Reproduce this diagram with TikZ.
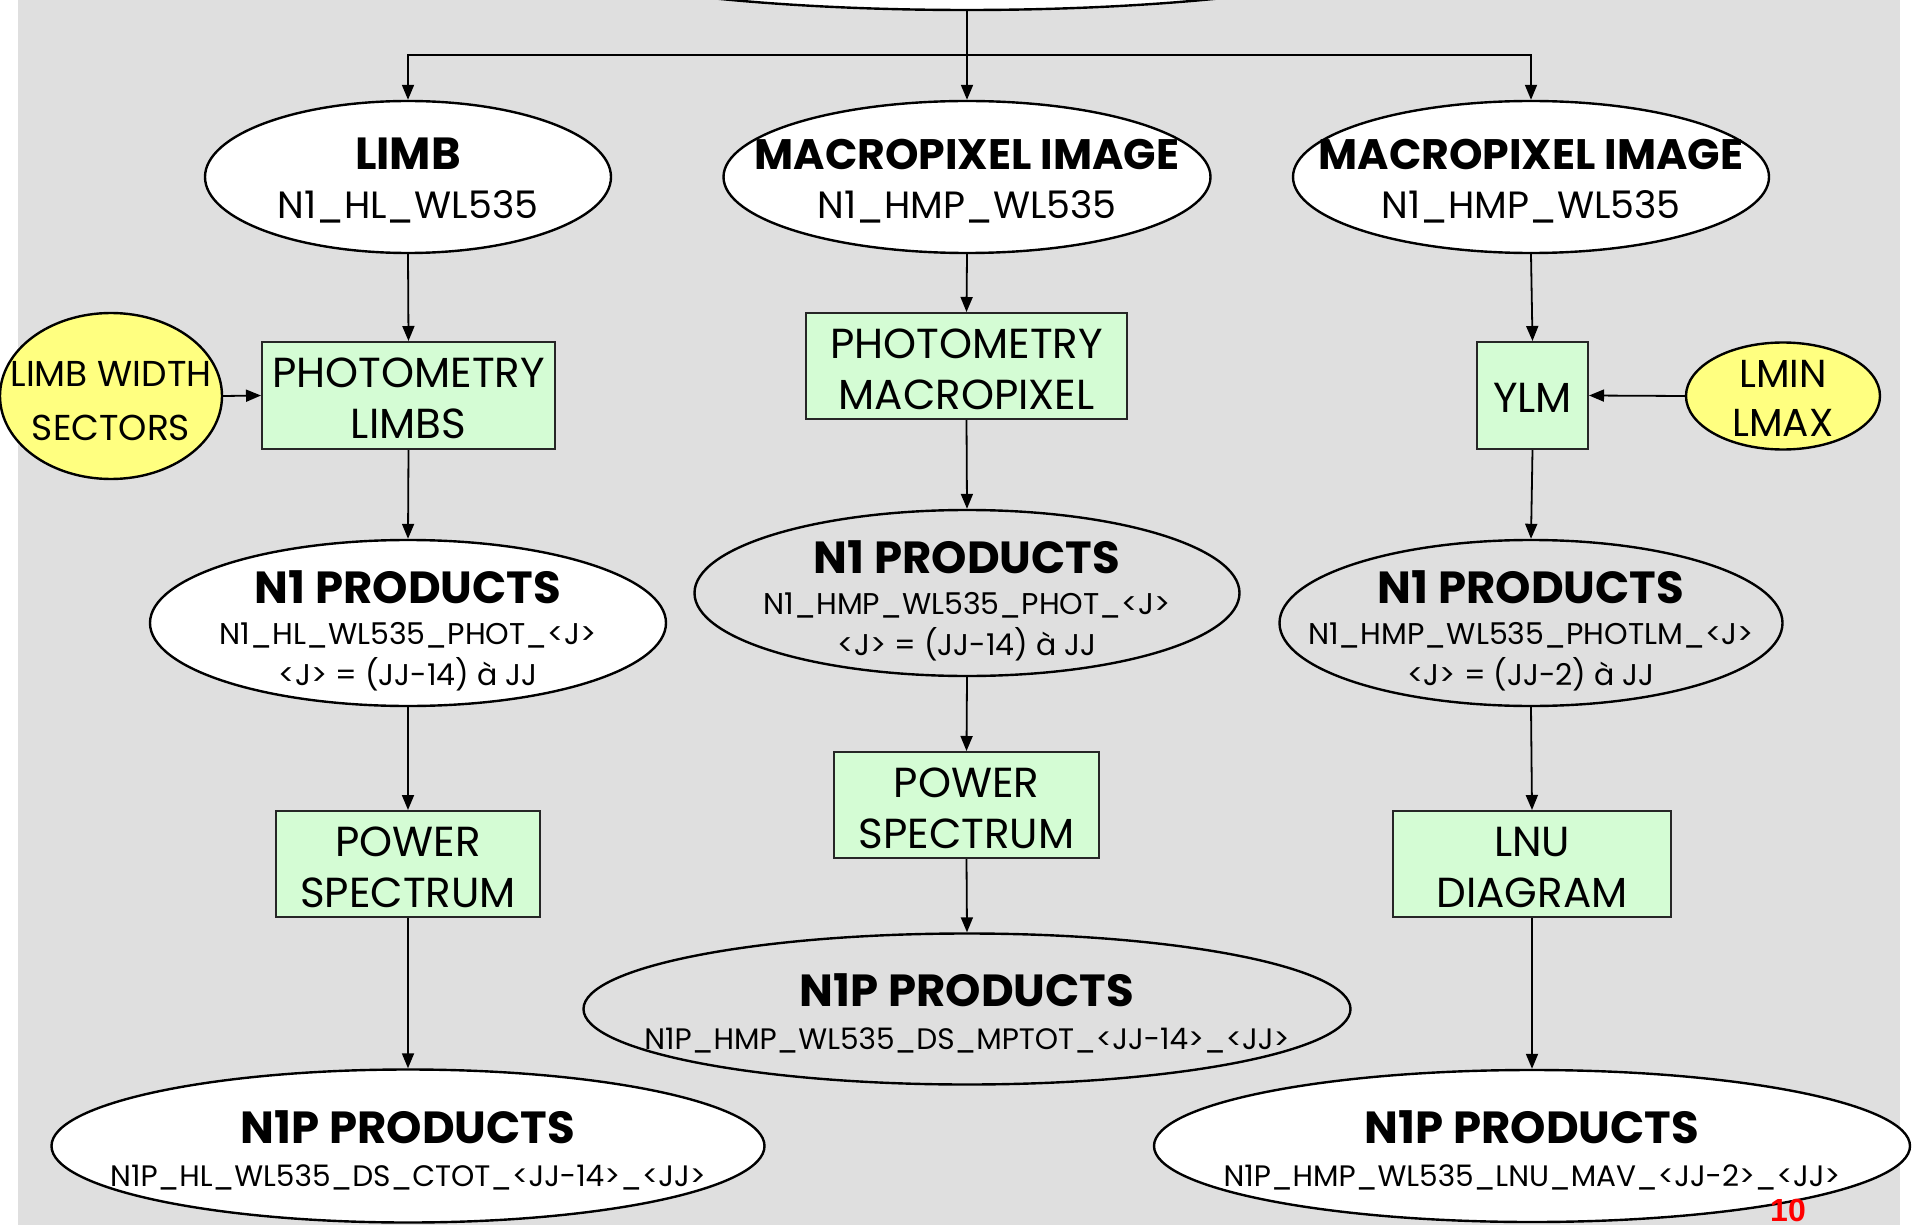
\documentclass[tikz,border=0pt]{standalone}
\usepackage{fontspec}
\setmainfont{Poppins}
\newfontfamily\numfont{Liberation Sans}
\usetikzlibrary{shapes.geometric,arrows.meta}
\definecolor{bggray}{RGB}{223,223,223}
\definecolor{boxgreen}{RGB}{212,252,212}
\definecolor{yelfill}{RGB}{255,255,128}
\newcommand{\ttl}{\bfseries\fontsize{22.5}{22.5}\selectfont}
\newcommand{\ttlw}{\bfseries\fontsize{21.3}{22.5}\selectfont}
\tikzset{
  ell/.style={ellipse, draw=black, line width=1.2pt, fill=white, inner sep=0pt},
  ellg/.style={ellipse, draw=black, line width=1.2pt, inner sep=0pt},
  yelnode/.style={ellipse, draw=black, line width=1.2pt, fill=yelfill, inner sep=0pt},
  gbox/.style={rectangle, draw=black!85, line width=1pt, fill=boxgreen, inner sep=0pt},
  btxt/.style={align=center, inner sep=0pt, font=\fontsize{21}{25.5}\selectfont},
  toptxt/.style={align=center, inner sep=0pt, font=\fontsize{19}{24.5}\selectfont},
  n1txt/.style={align=center, inner sep=0pt, font=\fontsize{15}{20.5}\selectfont},
  n1ptxt/.style={align=center, inner sep=0pt, font=\fontsize{14.8}{21.5}\selectfont},
  arr/.style={-{Triangle[length=7.5pt,width=6pt]}, line width=0.9pt}
}
\begin{document}
\begin{tikzpicture}[x=0.5pt,y=-0.5pt]
\clip (0,0) rectangle (1917,1225);
\fill[white] (0,0) rectangle (1917,1225);
\fill[bggray] (18,0) rectangle (1900,1225);

% top partial ellipse
\node[ell, minimum width=475pt, minimum height=76pt] (top) at (967,-66) {};

% top row
\node[ell, minimum width=203pt, minimum height=76pt] (limb) at (408,177) {};
\node[toptxt] (limbt) at (408,181) {{\ttl LIMB}\\N1\_HL\_WL535};
\node[ell, minimum width=243.5pt, minimum height=76pt] (mac1) at (967,177) {};
\node[toptxt] (mac1t) at (967,181) {{\ttlw MACROPIXEL IMAGE}\\N1\_HMP\_WL535};
\node[ell, minimum width=238pt, minimum height=76pt] (mac2) at (1531,177) {};
\node[toptxt] (mac2t) at (1531,181) {{\ttlw MACROPIXEL IMAGE}\\N1\_HMP\_WL535};

% second row
\node[yelnode, minimum width=111pt, minimum height=83pt] (yl) at (111,396) {};
\node[align=center, inner sep=0pt, font=\fontsize{18}{27}\selectfont] (ylt) at (111,401) {LIMB WIDTH\\SECTORS};
\node[gbox, minimum width=146.5pt, minimum height=53.5pt] (phl) at (408.5,395.5) {};
\node[btxt] (phlt) at ([yshift=-1.5pt]phl.center) {PHOTOMETRY\\LIMBS};
\node[gbox, minimum width=160.5pt, minimum height=53pt] (phm) at (966.5,366) {};
\node[btxt] (phmt) at ([yshift=-1.5pt]phm.center) {PHOTOMETRY\\MACROPIXEL};
\node[gbox, minimum width=55.5pt, minimum height=53.5pt] (ylm) at (1532.5,395.5) {};
\node[btxt] (ylmt) at ([yshift=-1pt]ylm.center) {YLM};
\node[yelnode, minimum width=97pt, minimum height=53.5pt] (lm) at (1783,396) {};
\node[align=center, inner sep=0pt, font=\fontsize{19.5}{24.5}\selectfont] (lmt) at (1783,398) {LMIN\\LMAX};

% N1 products
\node[ell, minimum width=258pt, minimum height=83pt] (n1l) at (408,623) {};
\node[n1txt] (n1lt) at (408,631) {{\ttl N1 PRODUCTS}\\N1\_HL\_WL535\_PHOT\_<J>\\<J> = (JJ-14) à JJ};
\node[ellg, minimum width=272.5pt, minimum height=83pt] (n1m) at (967,593) {};
\node[n1txt] (n1mt) at (967,601) {{\ttl N1 PRODUCTS}\\N1\_HMP\_WL535\_PHOT\_<J>\\<J> = (JJ-14) à JJ};
\node[ellg, minimum width=251.5pt, minimum height=83pt] (n1r) at (1531,623) {};
\node[n1txt] (n1rt) at (1531,631) {{\ttl N1 PRODUCTS}\\N1\_HMP\_WL535\_PHOTLM\_<J>\\<J> = (JJ-2) à JJ};

% processing boxes
\node[gbox, minimum width=132pt, minimum height=53pt] (pw1) at (408,864) {};
\node[btxt] (pw1t) at ([yshift=-1.5pt]pw1.center) {POWER\\SPECTRUM};
\node[gbox, minimum width=132.5pt, minimum height=53pt] (pw2) at (966.5,805) {};
\node[btxt] (pw2t) at ([yshift=-1.5pt]pw2.center) {POWER\\SPECTRUM};
\node[gbox, minimum width=139pt, minimum height=53pt] (lnu) at (1532,864) {};
\node[btxt] (lnut) at ([yshift=-1.5pt]lnu.center) {LNU\\DIAGRAM};

% N1P products
\node[ellg, minimum width=383.5pt, minimum height=75.5pt] (n1pm) at (967,1009) {};
\node[n1ptxt] (n1pmt) at (967,1013) {{\ttl N1P PRODUCTS}\\N1P\_HMP\_WL535\_DS\_MPTOT\_<JJ-14>\_<JJ>};
\node[ell, minimum width=356.5pt, minimum height=76.5pt] (n1pl) at (408,1146) {};
\node[n1ptxt] (n1plt) at (408,1150) {{\ttl N1P PRODUCTS}\\N1P\_HL\_WL535\_DS\_CTOT\_<JJ-14>\_<JJ>};
\node[ell, minimum width=378pt, minimum height=76pt] (n1pr) at (1532,1146) {};
\node[n1ptxt] (n1prt) at (1532,1150) {{\ttl N1P PRODUCTS}\\N1P\_HMP\_WL535\_LNU\_MAV\_<JJ-2>\_<JJ>};

\node[text=red, inner sep=0pt, font=\numfont\bfseries\fontsize{16}{16}\selectfont] (pg) at (1788,1210) {10};

% connectors
\coordinate (j) at (967,55);
\draw[arr] (top.south) -- (mac1.north);
\draw[arr] (j) -| (limb.north);
\draw[arr] (j) -| (mac2.north);
\draw[arr] (limb.south) -- (phl.north);
\draw[arr] (yl.east) -- (phl.west);
\draw[arr] (phl.south) -- (n1l.north);
\draw[arr] (n1l.south) -- (pw1.north);
\draw[arr] (pw1.south) -- (n1pl.north);
\draw[arr] (mac1.south) -- (phm.north);
\draw[arr] (phm.south) -- (n1m.north);
\draw[arr] (n1m.south) -- (pw2.north);
\draw[arr] (pw2.south) -- (n1pm.north);
\draw[arr] (mac2.south) -- (ylm.north);
\draw[arr] (lm.west) -- (ylm.east);
\draw[arr] (ylm.south) -- (n1r.north);
\draw[arr] (n1r.south) -- (lnu.north);
\draw[arr] (lnu.south) -- (n1pr.north);
\end{tikzpicture}
\end{document}
